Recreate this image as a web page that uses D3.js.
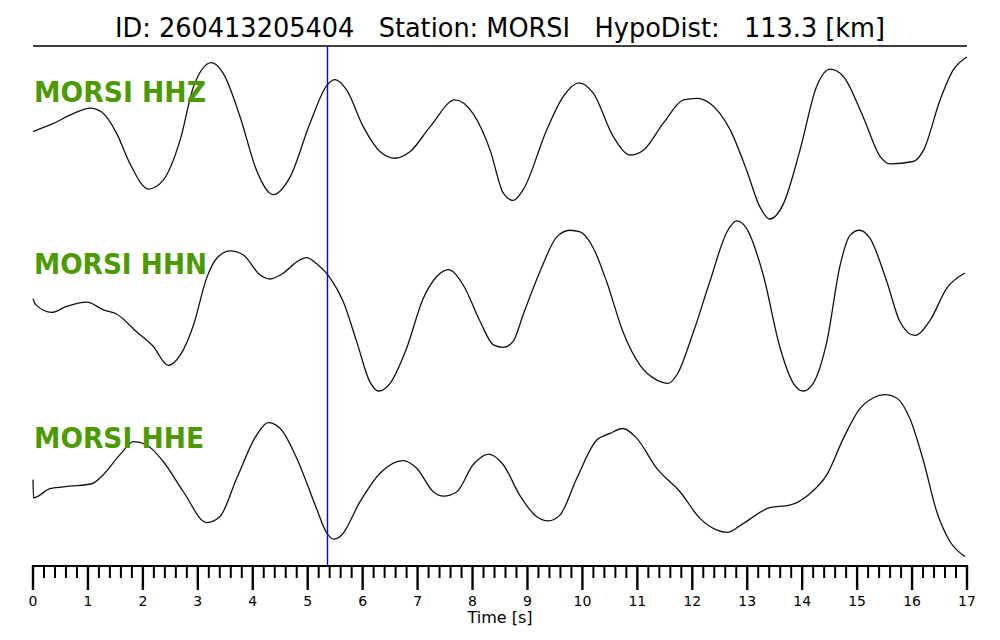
<!DOCTYPE html>
<html><head><meta charset="utf-8">
<script src="https://cdn.jsdelivr.net/npm/d3@7"></script>
<style>body{margin:0;background:#fff}svg{display:block}</style>
</head><body>
<svg id="c" width="1000" height="640"></svg>
<script>
const titleText = "ID: 260413205404   Station: MORSI   HypoDist:   113.3 [km]";
const traceNames = ["MORSI HHZ", "MORSI HHN", "MORSI HHE"];
const pickTime = 5.36;
const tickLabels = d3.range(0, 18);

const hhzT = [0,0.37,0.73,1.04,1.25,1.52,1.76,2.10,2.37,2.68,2.92,3.25,3.46,3.77,4.07,4.37,4.68,5.04,5.35,5.50,5.71,6.01,6.32,6.59,6.86,7.23,7.68,8.01,8.32,8.56,8.74,8.92,9.35,9.65,9.94,10.20,10.56,10.87,11.11,11.47,11.84,12.08,12.32,12.69,12.99,13.23,13.41,13.66,13.96,14.26,14.51,14.75,15.11,15.42,15.60,16.02,16.21,16.51,16.75,17.0];
const hhzA = [0.08,0.18,0.30,0.37,0.32,0.06,-0.31,-0.63,-0.52,-0.02,0.63,0.93,0.80,0.26,-0.40,-0.70,-0.48,0.18,0.65,0.72,0.59,0.14,-0.17,-0.25,-0.17,0.14,0.47,0.30,-0.15,-0.68,-0.77,-0.64,0.10,0.51,0.68,0.55,0.02,-0.21,-0.15,0.18,0.47,0.49,0.43,0.10,-0.40,-0.85,-1.00,-0.81,-0.15,0.63,0.85,0.76,0.26,-0.23,-0.32,-0.29,-0.15,0.47,0.84,1.00];

const hhnT = [0,0.05,0.34,0.61,0.98,1.28,1.52,1.89,2.19,2.46,2.68,2.92,3.16,3.34,3.59,3.83,4.13,4.31,4.56,4.80,4.98,5.16,5.41,5.65,5.89,6.13,6.29,6.50,6.80,7.10,7.35,7.56,7.83,8.14,8.38,8.56,8.74,8.92,9.23,9.53,9.77,9.96,10.20,10.44,10.74,11.05,11.35,11.56,11.72,12.02,12.32,12.63,12.81,12.99,13.29,13.60,13.84,14.02,14.20,14.45,14.69,14.87,15.04,15.23,15.54,15.78,16.05,16.33,16.63,16.96];
const hhnA = [0.08,0.01,-0.08,-0.01,0.04,-0.05,-0.10,-0.31,-0.48,-0.70,-0.58,-0.23,0.32,0.55,0.64,0.59,0.36,0.31,0.38,0.51,0.56,0.49,0.32,0.04,-0.42,-0.89,-1.00,-0.91,-0.50,0.08,0.34,0.42,0.24,-0.19,-0.46,-0.49,-0.42,-0.11,0.40,0.80,0.88,0.86,0.67,0.28,-0.31,-0.70,-0.87,-0.91,-0.81,-0.31,0.28,0.86,0.99,0.90,0.36,-0.50,-0.91,-1.00,-0.91,-0.42,0.47,0.82,0.88,0.79,0.28,-0.19,-0.35,-0.17,0.20,0.38];

const hheT = [0,0.01,0.31,0.67,1.07,1.28,1.58,1.83,2.07,2.37,2.74,3.16,3.40,3.71,4.07,4.28,4.50,4.80,5.16,5.35,5.47,5.62,5.95,6.32,6.74,6.98,7.29,7.47,7.71,8.01,8.29,8.56,8.86,9.17,9.38,9.59,9.90,10.26,10.50,10.74,10.99,11.35,11.78,12.14,12.44,12.63,12.93,13.41,13.77,14.14,14.45,14.75,15.05,15.29,15.51,15.72,15.96,16.21,16.45,16.69,16.96];
const hheA = [-0.05,-0.27,-0.16,-0.13,-0.10,0.01,0.25,0.41,0.37,0.17,-0.20,-0.57,-0.50,-0.03,0.49,0.64,0.57,0.21,-0.40,-0.70,-0.77,-0.72,-0.32,0.03,0.18,0.09,-0.20,-0.25,-0.20,0.13,0.26,0.13,-0.24,-0.50,-0.55,-0.48,-0.03,0.43,0.51,0.57,0.45,0.09,-0.20,-0.52,-0.66,-0.69,-0.58,-0.39,-0.36,-0.22,0.01,0.45,0.81,0.94,0.98,0.94,0.69,0.17,-0.44,-0.80,-0.98];

const svg = d3.select("#c");
const x = d3.scaleLinear().domain([0, 17]).range([33, 967]);
const bands = [[219, 57], [391, 220], [558, 393]];
const labelY = [101.7, 274.3, 447.7];
const labelW = [172, 173, 170];
const series = [[hhzT, hhzA], [hhnT, hhnA], [hheT, hheA]];

// title
svg.append("text").attr("x", 500).attr("y", 37).attr("text-anchor", "middle")
  .style("font-family", "DejaVu Sans").style("font-stretch", "condensed").style("font-size", "27px")
  .style("white-space", "pre").attr("xml:space", "preserve")
  .attr("textLength", 770).attr("lengthAdjust", "spacingAndGlyphs")
  .attr("fill", "#000").text(titleText);

svg.append("line").attr("x1", x(0)).attr("x2", x(17)).attr("y1", 46).attr("y2", 46)
  .attr("stroke", "#000").attr("stroke-width", 1.6);

// traces
series.forEach((s, i) => {
  const y = d3.scaleLinear().domain([-1, 1]).range(bands[i]);
  const pts = s[0].map((t, j) => [t, s[1][j]]);
  const line = d3.line().x(d => x(d[0])).y(d => y(d[1])).curve(d3.curveMonotoneX);
  svg.append("path").attr("d", line(pts)).attr("fill", "none")
    .attr("stroke", "#111").attr("stroke-width", 1.3).attr("stroke-linejoin", "round");
});

// labels
traceNames.forEach((n, i) => {
  svg.append("text").attr("x", 34).attr("y", labelY[i])
    .style("font-family", "DejaVu Sans").style("font-weight", "bold").style("font-size", "29px")
    .attr("textLength", labelW[i]).attr("lengthAdjust", "spacingAndGlyphs")
    .attr("fill", "#4d9900").text(n);
});

// pick line
svg.append("line").attr("x1", x(pickTime)).attr("x2", x(pickTime)).attr("y1", 46).attr("y2", 566)
  .attr("stroke", "#0000ff").attr("stroke-width", 1.4);

// axis
const g = svg.append("g");
g.append("line").attr("x1", x(0)).attr("x2", x(17)).attr("y1", 566).attr("y2", 566)
  .attr("stroke", "#000").attr("stroke-width", 2);
const minor = d3.range(0, 85).map(k => k * 0.2).filter(v => Math.abs(v - Math.round(v)) > 1e-6);
g.selectAll(".mn").data(minor).join("line")
  .attr("x1", d => x(d)).attr("x2", d => x(d)).attr("y1", 565).attr("y2", 578)
  .attr("stroke", "#000").attr("stroke-width", 2);
g.selectAll(".mj").data(tickLabels).join("line")
  .attr("x1", d => x(d)).attr("x2", d => x(d)).attr("y1", 565).attr("y2", 590)
  .attr("stroke", "#000").attr("stroke-width", 2.4);
g.selectAll(".tl").data(tickLabels).join("text")
  .attr("x", d => x(d)).attr("y", 606).attr("text-anchor", "middle")
  .style("font-family", "DejaVu Sans").style("font-size", "14px").attr("fill", "#000")
  .text(d => d);
svg.append("text").attr("x", 500).attr("y", 623).attr("text-anchor", "middle")
  .style("font-family", "DejaVu Sans").style("font-size", "16px").attr("fill", "#000")
  .text("Time [s]");
</script>
</body></html>
